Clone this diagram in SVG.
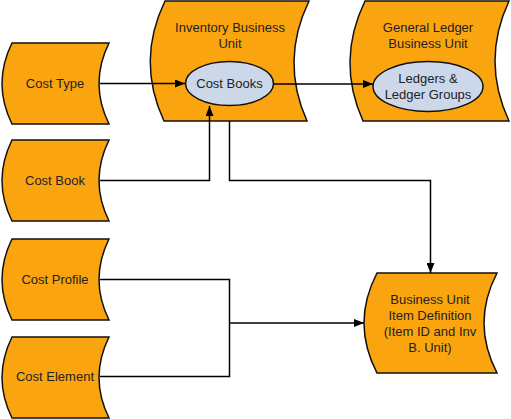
<svg xmlns="http://www.w3.org/2000/svg" width="511" height="419" viewBox="0 0 511 419">
<defs>
<style>
.shape{fill:#FAA510;stroke:#111;stroke-width:1.5}
.ell{fill:#CCD8EA;stroke:#111;stroke-width:1.5}
.t{font-family:"Liberation Sans",Arial,sans-serif;font-size:13px;fill:#222;text-anchor:middle}
.c{fill:none;stroke:#000;stroke-width:1.5}
</style>
<marker id="ah" markerWidth="10" markerHeight="8" refX="10" refY="4" orient="auto" markerUnits="userSpaceOnUse">
<path d="M0,0 L10,4 L0,8 Z" fill="#000"/>
</marker>
</defs>
<rect width="511" height="419" fill="#fff"/>
<g id="cost-type">
<path class="shape" d="M12,43 L109,43 Q89,83.5 109,124 L12,124 Q-8,83.5 12,43 Z"/>
<text class="t" x="55" y="88">Cost Type</text>
</g>
<g id="cost-book">
<path class="shape" d="M12,140 L109,140 Q89,180.5 109,221 L12,221 Q-8,180.5 12,140 Z"/>
<text class="t" x="55" y="185">Cost Book</text>
</g>
<g id="cost-profile">
<path class="shape" d="M12,239 L109,239 Q89,279.5 109,320 L12,320 Q-8,279.5 12,239 Z"/>
<text class="t" x="55" y="284">Cost Profile</text>
</g>
<g id="cost-element">
<path class="shape" d="M12,337 L109,337 Q89,377.5 109,418 L12,418 Q-8,377.5 12,337 Z"/>
<text class="t" x="55" y="381">Cost Element</text>
</g>
<g id="inventory-bu">
<path class="shape" d="M165,1 L309,1 Q280,61 307,121 L164,121 Q136,61 165,1 Z"/>
<text class="t" x="230" y="32">Inventory Business</text>
<text class="t" x="230" y="48">Unit</text>
</g>
<g id="cost-books">
<ellipse class="ell" cx="229.5" cy="83.5" rx="44" ry="22"/>
<text class="t" x="229.5" y="88">Cost Books</text>
</g>
<g id="gl-bu">
<path class="shape" d="M365,1 L509,1 Q481,61 509,121 L363,121 Q336,61 365,1 Z"/>
<text class="t" x="428" y="32">General Ledger</text>
<text class="t" x="428" y="48">Business Unit</text>
</g>
<g id="ledgers">
<ellipse class="ell" cx="428" cy="86.5" rx="55" ry="25"/>
<text class="t" x="428" y="83">Ledgers &amp;</text>
<text class="t" x="428" y="99">Ledger Groups</text>
</g>
<g id="bu-item-def">
<path class="shape" d="M377,273 L497,273 Q471,323 497,373 L377,373 Q351,323 377,273 Z"/>
<text class="t" x="430" y="304">Business Unit</text>
<text class="t" x="430" y="320">Item Definition</text>
<text class="t" x="430" y="336">(Item ID and Inv</text>
<text class="t" x="430" y="352">B. Unit)</text>
</g>
<g id="connectors">
<path class="c" d="M100,83.5 L185,83.5" marker-end="url(#ah)"/>
<path class="c" d="M100,180.5 L209.5,180.5 L209.5,106" marker-end="url(#ah)"/>
<path class="c" d="M273.5,84 L373,84" marker-end="url(#ah)"/>
<path class="c" d="M229.5,121 L229.5,180.5 L430.5,180.5 L430.5,273" marker-end="url(#ah)"/>
<path class="c" d="M100,279.5 L229.5,279.5 L229.5,376.5 L100,376.5"/>
<path class="c" d="M229.5,323 L364,323" marker-end="url(#ah)"/>
</g>
</svg>
